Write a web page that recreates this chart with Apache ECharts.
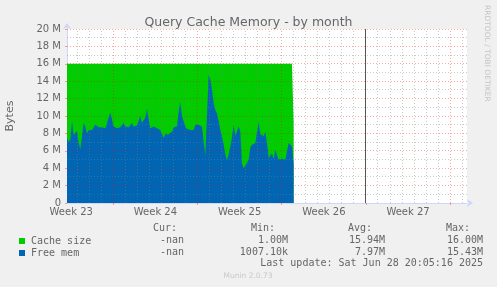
<!DOCTYPE html>
<html>
<head>
<meta charset="utf-8">
<script src="https://cdn.jsdelivr.net/npm/echarts@6/dist/echarts.min.js"></script>
<style>
  html, body { margin: 0; padding: 0; background: #f0f0f0; }
  #chart { width: 497px; height: 287px; }
</style>
</head>
<body>
<div id="chart"></div>
<script>
// ---- data (time axis in days since Mon 2 Jun 2025 00:00) ----
const axisStartDay = 3.15;
const axisEndDay = 36.4;
const weekLabelDays = [3.5, 10.5, 17.5, 24.5, 31.5];
const weekLabels = ['Week 23', 'Week 24', 'Week 25', 'Week 26', 'Week 27'];
const weekStartDays = [7, 14, 21, 28, 35];
const dayGridDays = [4, 5, 6, 7, 8, 9, 10, 11, 12, 13, 14, 15, 16, 17, 18, 19, 20, 21, 22, 23, 24, 25, 26, 27, 29, 30, 31, 32, 33, 34, 35, 36];
const nowLineDay = 28;

const yTicksMax = 20; // M
const yTickStep = 2;
const yGridValues = [1, 2, 3, 4, 5, 6, 7, 8, 9, 10, 11, 12, 13, 14, 15, 16, 17, 18, 19, 20];

// Cache size (M)
const cacheTimes = [3.15, 21.85, 21.99];
const cacheValues = [16, 16, 9.2];

// Free mem (M), one sample every sampleStepDays from sampleStartDay
const sampleStartDay = 3.15;
const sampleStepDays = 0.13854;
const freeMem = [
  7.5, 7.0, 7.3, 9.4, 7.8, 7.6, 8.3, 6.9, 6.2, 6.2,
  9.2, 8.8, 8.0, 8.4, 8.2, 8.4, 8.6, 9.0, 8.8, 8.7,
  8.9, 8.7, 8.8, 8.6, 9.2, 9.0, 10.4, 9.6, 8.8, 8.7,
  8.6, 8.6, 8.7, 8.9, 9.2, 8.8, 8.8, 8.7, 8.8, 9.2,
  8.8, 9.0, 8.9, 9.1, 10.0, 9.2, 9.0, 9.8, 10.8, 9.6,
  8.6, 8.5, 8.8, 8.6, 8.6, 8.8, 8.4, 7.9, 7.5, 7.9,
  7.7, 7.9, 7.7, 8.2, 8.7, 8.7, 8.8, 10.5, 11.6, 10.0,
  9.4, 8.8, 8.5, 8.6, 8.4, 8.6, 8.4, 9.0, 9.1, 9.0,
  9.2, 8.8, 8.8, 5.4, 5.6, 14.75, 14.2, 13.0, 11.5, 10.7,
  10.3, 9.4, 8.4, 7.7, 6.7, 5.6, 4.9, 5.6, 6.5, 7.6,
  9.0, 7.7, 7.7, 8.8, 8.2, 4.5, 4.0, 4.3, 4.6, 5.0,
  6.4, 6.7, 6.5, 6.9, 7.1, 9.3, 7.9, 8.0, 7.7, 8.2,
  6.9, 5.2, 5.2, 5.7, 5.1, 6.1, 6.3, 5.0, 5.2, 5.1,
  5.2, 5.0, 5.0, 6.9, 6.9, 6.5, 4.4
];

const legendNames = ['Cache size', 'Free mem'];
const statHeaders = ['Cur:', 'Min:', 'Avg:', 'Max:'];
const cacheStats = ['-nan', '1.00M', '15.94M', '16.00M'];
const freeStats = ['-nan', '1007.10k', '7.97M', '15.43M'];
const lastUpdate = 'Last update: Sat Jun 28 20:05:16 2025';
const titleText = 'Query Cache Memory - by month';
const yName = 'Bytes';
const watermark = 'RRDTOOL / TOBI OETIKER';
const footer = 'Munin 2.0.73';

// ---- build ----
const cacheData = cacheTimes.map((t, i) => [t, cacheValues[i]]);
const freeData = freeMem.map((v, i) => [sampleStartDay + i * sampleStepDays, v]);

const FONT = 'DejaVu Sans, sans-serif';
const MONO = 'DejaVu Sans Mono, monospace';
const TXT = '#666666';
const AXIS = '#CFD6F8';
const GRID = 'rgba(128,128,128,0.42)';
const MGRID = 'rgba(255,0,0,0.35)';
const crisp = (p) => Math.round(p - 0.5) + 0.5;

const headerX = [177, 275, 372, 470];
const valueX = [184, 288, 385, 483];
const graphics = [];
statHeaders.forEach((h, i) => graphics.push({type: 'text', x: headerX[i], y: 228, silent: true,
  style: {text: h, font: '10px ' + MONO, fill: TXT, textAlign: 'right', textVerticalAlign: 'middle'}}));
cacheStats.forEach((s, i) => graphics.push({type: 'text', x: valueX[i], y: 240, silent: true,
  style: {text: s, font: '10px ' + MONO, fill: TXT, textAlign: 'right', textVerticalAlign: 'middle'}}));
freeStats.forEach((s, i) => graphics.push({type: 'text', x: valueX[i], y: 252, silent: true,
  style: {text: s, font: '10px ' + MONO, fill: TXT, textAlign: 'right', textVerticalAlign: 'middle'}}));
graphics.push({type: 'text', x: 483, y: 263.5, silent: true,
  style: {text: lastUpdate, font: '10px ' + MONO, fill: TXT, textAlign: 'right', textVerticalAlign: 'middle'}});
graphics.push({type: 'text', x: 248, y: 276, silent: true,
  style: {text: footer, font: '7.5px ' + FONT, fill: '#c8c8c8', textAlign: 'center', textVerticalAlign: 'middle'}});
graphics.push({type: 'text', x: 487, y: 5, rotation: -Math.PI / 2, silent: true,
  style: {text: watermark, font: '7.5px ' + FONT, fill: '#c4c4c4', textAlign: 'left', textVerticalAlign: 'middle'}});

const chart = echarts.init(document.getElementById('chart'), null, {renderer: 'canvas'});
chart.setOption({
  backgroundColor: '#f0f0f0',
  animation: false,
  title: {
    text: titleText, left: 'center', top: 11,
    textStyle: {fontFamily: FONT, fontSize: 12.5, fontWeight: 'normal', color: TXT}
  },
  legend: {
    data: legendNames, orient: 'vertical', left: 14, top: 230,
    icon: 'rect', itemWidth: 6, itemHeight: 6, itemGap: 0,
    selectedMode: false,
    textStyle: {fontFamily: MONO, fontSize: 10, color: TXT, lineHeight: 12, padding: [0, 0, 0, 1]}
  },
  grid: {left: 67, right: 30, top: 29, bottom: 84, show: true, backgroundColor: '#ffffff', borderWidth: 0,
    containLabel: false, outerBoundsMode: 'none'},
  xAxis: {
    type: 'value', min: axisStartDay, max: axisEndDay,
    axisLine: {show: true, lineStyle: {color: AXIS}, symbol: ['none', 'arrow'], symbolSize: [6, 6], symbolOffset: [0, 6]},
    axisTick: {show: true, customValues: weekStartDays, length: 2, lineStyle: {color: MGRID}},
    axisLabel: {customValues: weekLabelDays, formatter: (v) => weekLabels[weekLabelDays.indexOf(v)] || '',
      fontFamily: FONT, fontSize: 10, color: TXT, margin: 4},
    splitLine: {show: false}
  },
  yAxis: {
    type: 'value', min: 0, max: yTicksMax, interval: yTickStep,
    name: yName, nameLocation: 'middle', nameGap: 51, nameRotate: 90,
    nameTextStyle: {fontFamily: FONT, fontSize: 11, color: TXT},
    axisLine: {show: true, lineStyle: {color: AXIS}, symbol: ['none', 'arrow'], symbolSize: [6, 6], symbolOffset: [0, 6]},
    axisTick: {show: true, length: 2, lineStyle: {color: MGRID}},
    axisLabel: {formatter: (v) => v === 0 ? '0' : v + ' M', fontFamily: FONT, fontSize: 10, color: TXT, margin: 6},
    splitLine: {show: false}
  },
  series: [{
    name: legendNames[0], type: 'line', data: cacheData, symbol: 'none', z: 1,
    itemStyle: {color: '#00CC00'}, lineStyle: {width: 0}, areaStyle: {color: '#00CC00', opacity: 1}
  }, {
    name: legendNames[1], type: 'line', data: freeData, symbol: 'none', z: 2,
    itemStyle: {color: '#0066B3'}, lineStyle: {width: 0}, areaStyle: {color: '#0066B3', opacity: 1}
  }, {
    // horizontal grid lines drawn over the areas (rrdtool style)
    name: 'hgrid', type: 'custom', z: 10, silent: true, clip: false,
    data: yGridValues.map((v) => [axisStartDay, v]),
    renderItem: (params, api) => {
      const v = api.value(1);
      const a = api.coord([axisStartDay, v]);
      const b = api.coord([axisEndDay, v]);
      const y = crisp(a[1]);
      return {type: 'line', shape: {x1: a[0], y1: y, x2: b[0], y2: y},
        style: {stroke: v % yTickStep === 0 ? MGRID : GRID, lineWidth: 1, lineDash: [1, 2]}};
    }
  }, {
    // vertical day / week grid lines
    name: 'vgrid', type: 'custom', z: 10, silent: true, clip: false,
    data: dayGridDays.map((d) => [d, 0]),
    renderItem: (params, api) => {
      const d = api.value(0);
      const a = api.coord([d, 0]);
      const b = api.coord([d, yTicksMax]);
      const x = crisp(a[0]);
      return {type: 'line', shape: {x1: x, y1: a[1], x2: x, y2: b[1]},
        style: {stroke: weekStartDays.indexOf(d) >= 0 ? MGRID : GRID, lineWidth: 1, lineDash: [1, 2]}};
    }
  }, {
    name: 'now', type: 'custom', z: 11, silent: true, clip: false,
    data: [[nowLineDay, 0]],
    renderItem: (params, api) => {
      const d = api.value(0);
      const a = api.coord([d, 0]);
      const b = api.coord([d, yTicksMax]);
      const x = crisp(a[0]);
      return {type: 'line', shape: {x1: x, y1: a[1], x2: x, y2: b[1]},
        style: {stroke: '#555555', lineWidth: 1}};
    }
  }],
  graphic: graphics
});
</script>
</body>
</html>
